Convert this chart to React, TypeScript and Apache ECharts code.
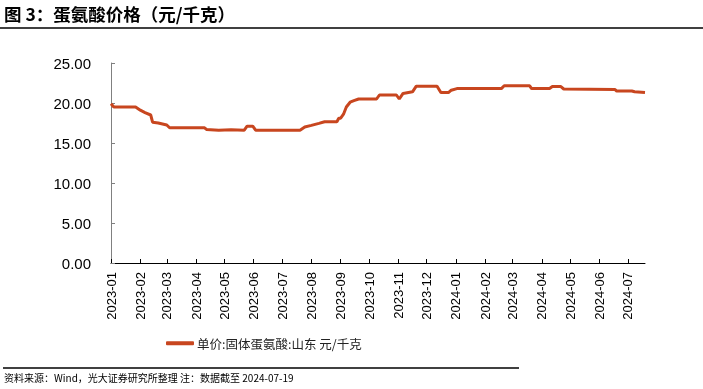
import React, { useEffect, useRef } from "react";
import * as echarts from "echarts";

const TITLE = "图 3：蛋氨酸价格（元/千克）";
const SERIES_NAME = "单价:固体蛋氨酸:山东 元/千克";
const SOURCE = "资料来源：Wind，光大证券研究所整理 注：数据截至 2024-07-19";

const dates: string[] = [
  "2023-01-01", "2023-01-04", "2023-01-27", "2023-02-01", "2023-02-06", "2023-02-12",
  "2023-02-14", "2023-02-20", "2023-03-01", "2023-03-04", "2023-04-10", "2023-04-12",
  "2023-04-25", "2023-05-08", "2023-05-22", "2023-05-25", "2023-05-31", "2023-06-03",
  "2023-07-20", "2023-07-25", "2023-08-01", "2023-08-09", "2023-08-15", "2023-08-28",
  "2023-08-30", "2023-09-01", "2023-09-04", "2023-09-07", "2023-09-11", "2023-09-15",
  "2023-09-20", "2023-10-09", "2023-10-12", "2023-10-30", "2023-11-02", "2023-11-06",
  "2023-11-16", "2023-11-20", "2023-12-12", "2023-12-16", "2023-12-24", "2023-12-27",
  "2024-01-02", "2024-02-18", "2024-02-21", "2024-03-19", "2024-03-21", "2024-04-09",
  "2024-04-12", "2024-04-21", "2024-04-24", "2024-06-17", "2024-06-19", "2024-07-05",
  "2024-07-08", "2024-07-19",
];

const prices: number[] = [
  19.9, 19.5, 19.5, 19.1, 18.8, 18.5,
  17.6, 17.5, 17.25, 16.9, 16.9, 16.7,
  16.6, 16.65, 16.6, 17.1, 17.1, 16.6,
  16.6, 17.0, 17.2, 17.45, 17.65, 17.65,
  18.1, 18.1, 18.6, 19.5, 20.1, 20.3,
  20.5, 20.5, 21.0, 21.0, 20.5, 21.2,
  21.4, 22.1, 22.1, 21.3, 21.3, 21.6,
  21.8, 21.8, 22.15, 22.15, 21.8, 21.8,
  22.05, 22.05, 21.75, 21.7, 21.5, 21.5,
  21.4, 21.3,
];

const X_MIN = "2023-01-01";
const X_MAX = "2024-07-19";
const Y_MIN = 0;
const Y_MAX = 25;
const Y_STEP = 5;

function toTs(s: string): number {
  const [y, m, d] = s.split("-").map(Number);
  return new Date(y, m - 1, d).getTime();
}

function fmtMonth(v: number): string {
  const d = new Date(v);
  const m = d.getMonth() + 1;
  return d.getFullYear() + "-" + (m < 10 ? "0" + m : "" + m);
}

export default function App() {
  const ref = useRef<HTMLDivElement>(null);
  useEffect(() => {
    if (!ref.current) return;
    const chart = echarts.init(ref.current, null, { renderer: "svg" });
    const DAY = 86400000;
    const font = "'Liberation Sans', Arial, 'Noto Sans CJK SC', sans-serif";
    const cjk = "'Noto Sans CJK SC', 'Liberation Sans', sans-serif";
    chart.setOption({
      animation: false,
      textStyle: { fontFamily: font },
      grid: { left: 111, right: 58, top: 63, bottom: 126, containLabel: false, outerBoundsMode: "none" },
      xAxis: {
        type: "time",
        min: toTs(X_MIN),
        max: toTs(X_MAX),
        minInterval: 28 * DAY,
        maxInterval: 31 * DAY,
        splitNumber: 19,
        axisLine: { lineStyle: { color: "#000", width: 1 } },
        axisTick: { inside: true, length: 4, lineStyle: { color: "#000" } },
        splitLine: { show: false },
        axisLabel: {
          rotate: 90,
          margin: 9,
          color: "#000",
          fontSize: 13,
          fontFamily: font,
          hideOverlap: false,
          formatter: (v: number) => fmtMonth(v),
        },
      },
      yAxis: {
        type: "value",
        min: Y_MIN,
        max: Y_MAX,
        interval: Y_STEP,
        axisLine: { show: true, lineStyle: { color: "#808080", width: 1 } },
        axisTick: { show: true, inside: true, length: 4, lineStyle: { color: "#808080" } },
        splitLine: { show: false },
        axisLabel: {
          margin: 20,
          color: "#000",
          fontSize: 15,
          fontFamily: font,
          formatter: (v: number) => v.toFixed(2),
        },
      },
      legend: {
        show: true,
        left: 161,
        top: 332,
        itemWidth: 28,
        itemHeight: 4,
        itemGap: 10,
        icon: "roundRect",
        textStyle: { fontSize: 12.5, color: "#222", fontFamily: cjk, padding: [0, 0, 0, -2] },
        data: [SERIES_NAME],
      },
      series: [
        {
          name: SERIES_NAME,
          type: "line",
          showSymbol: false,
          symbol: "none",
          data: dates.map((d, i) => [toTs(d), prices[i]]),
          lineStyle: { color: "#C8461F", width: 3 },
          itemStyle: { color: "#C8461F" },
        },
      ],
      graphic: [
        {
          type: "text",
          x: 4,
          y: 13,
          style: { text: TITLE, fill: "#000", font: "bold 17.5px " + cjk, verticalAlign: "middle", align: "left" },
        },
        {
          type: "line",
          shape: { x1: 0, y1: 28, x2: 703, y2: 28 },
          style: { stroke: "#000", lineWidth: 1.5 },
        },
        {
          type: "line",
          shape: { x1: 3, y1: 368, x2: 519, y2: 368 },
          style: { stroke: "#000", lineWidth: 1.5 },
        },
        {
          type: "text",
          left: 4,
          top: 372,
          style: { text: SOURCE, fill: "#000", font: "10px " + cjk },
        },
      ],
    });
    return () => chart.dispose();
  }, []);
  return <div ref={ref} style={{ position: "fixed", left: 0, top: 0, width: 703, height: 389 }} />;
}
